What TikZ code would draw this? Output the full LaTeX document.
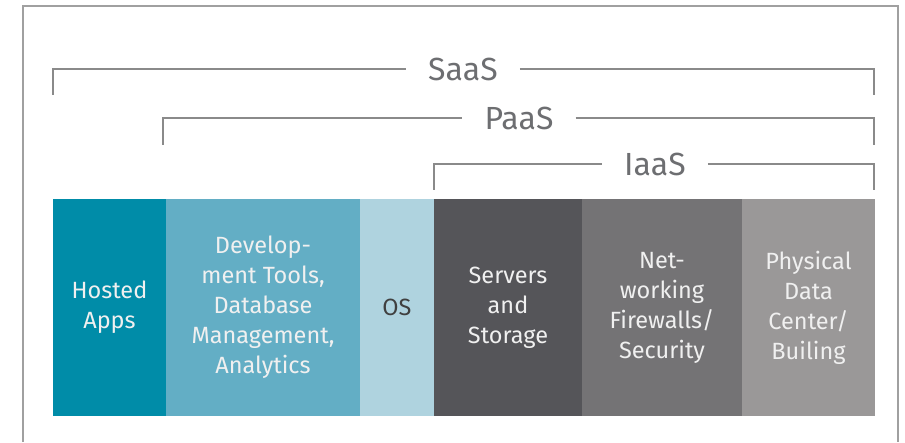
\documentclass[tikz,border=0pt]{standalone}
\usepackage{fontspec}
\setmainfont{Fira Sans}
\usetikzlibrary{positioning}

\definecolor{appsblue}{HTML}{008CA8}
\definecolor{toolsblue}{HTML}{63AEC5}
\definecolor{osblue}{HTML}{AFD3DF}
\definecolor{serverdark}{HTML}{555559}
\definecolor{netgray}{HTML}{747375}
\definecolor{physgray}{HTML}{9A9898}
\definecolor{framegray}{HTML}{A0A0A0}
\definecolor{bracketgray}{HTML}{8A8A8A}
\definecolor{tiertext}{HTML}{6D6E71}

\begin{document}
\begin{tikzpicture}[x=1pt, y=1pt,
    layer/.style={rectangle, inner sep=0pt, minimum height=217pt, align=center,
        text=white!94!black, font=\fontsize{23.5}{30}\selectfont},
    tier/.style={inner xsep=22pt, inner ysep=0pt, text=tiertext,
        font=\fontsize{32}{36}\selectfont},
    bracket/.style={draw=bracketgray, line width=1.7pt}]
    \useasboundingbox (0,0) rectangle (905,442);

    % outer frame, open at the bottom
    \draw[framegray, line width=1.8pt] (23,0) -- (23,436) -- (898,436) -- (898,0);

    % the stack of layers
    \node[layer, fill=appsblue, minimum width=113pt] (apps) at (109.5,134.5) {Hosted\\Apps};
    \node[layer, fill=toolsblue, minimum width=194pt] (tools) at (263,134.5)
        {Develop-\\ment Tools,\\Database\\Management,\\Analytics};
    \node[layer, fill=osblue, minimum width=74pt, text=black!75] (os) at (397,134.5) {OS};
    \node[layer, fill=serverdark, minimum width=148pt] (servers) at (508,134.5)
        {Servers\\and\\Storage};
    \node[layer, fill=netgray, minimum width=160pt] (network) at (662,134.5)
        {Net-\\working\\Firewalls/\\Security};
    \node[layer, fill=physgray, minimum width=133pt] (physical) at (808.5,134.5)
        {Physical\\Data\\Center/\\Builing};

    % service tiers
    \node[tier] (saas) at (463,373) {SaaS};
    \node[tier] (paas) at (519,324) {PaaS};
    \node[tier] (iaas) at (655,278) {IaaS};

    \coordinate (saasL) at (53,347);
    \coordinate (saasR) at (874,347);
    \coordinate (paasL) at (163,297);
    \coordinate (paasR) at (874,297);
    \coordinate (iaasL) at (434,252);
    \coordinate (iaasR) at (874,252);

    \draw[bracket] (saasL) |- (saas.west);
    \draw[bracket] (saas.east) -| (saasR);
    \draw[bracket] (paasL) |- (paas.west);
    \draw[bracket] (paas.east) -| (paasR);
    \draw[bracket] (iaasL) |- (iaas.west);
    \draw[bracket] (iaas.east) -| (iaasR);
\end{tikzpicture}
\end{document}
